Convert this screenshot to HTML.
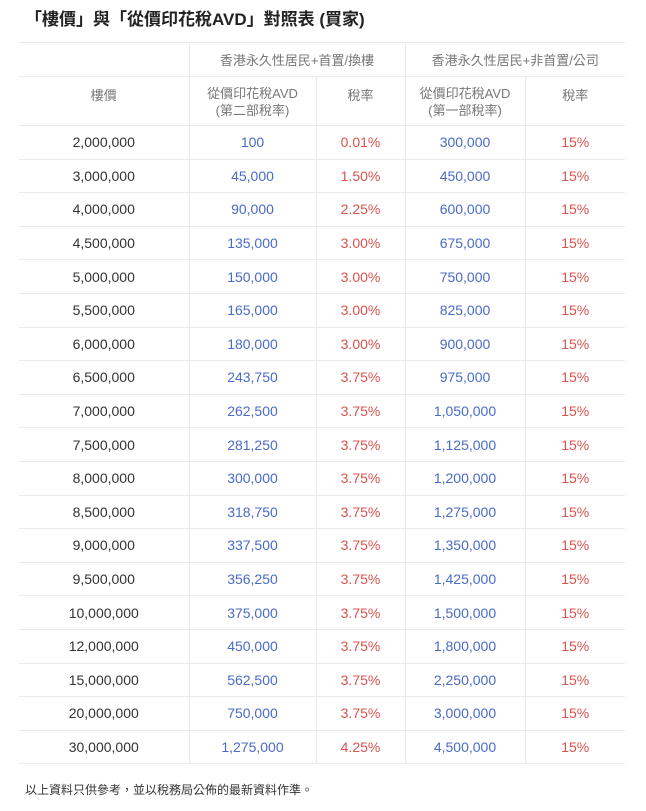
<!DOCTYPE html>
<html><head><meta charset="utf-8"><style>
body{margin:0;background:#fff;font-family:"Liberation Sans","Noto Sans CJK TC",sans-serif;width:646px;height:811px;overflow:hidden;position:relative}
h1{position:absolute;left:25px;top:8px;margin:0;font-size:17px;font-weight:bold;color:#222;line-height:24px}
table{position:absolute;left:19px;top:42px;width:606px;border-collapse:collapse;font-size:14px;table-layout:fixed}
td{border:1px solid #eaeaea;text-align:center;padding:0;height:32.6px;color:#333;overflow:hidden}
td:first-child{border-left:none}
td:last-child{border-right:none}
.h td{color:#777;font-size:13px}
.b{color:#4a6bc6}.r{color:#d9534f}
p{position:absolute;left:25px;top:781px;margin:0;font-size:12px;color:#333}
</style></head><body>
<h1>「樓價」與「從價印花稅AVD」對照表 (買家)</h1>
<table>
<colgroup><col style="width:170px"><col style="width:127px"><col style="width:89px"><col style="width:120px"><col></colgroup>
<tr class="h"><td style="height:33px"></td><td colspan="2">香港永久性居民+首置/換樓</td><td colspan="2">香港永久性居民+非首置/公司</td></tr>
<tr class="h"><td style="height:49px;vertical-align:top;padding-top:8px;box-sizing:border-box">樓價</td><td style="vertical-align:top;line-height:17px;padding-top:8px">從價印花稅AVD<br>(第二部稅率)</td><td style="vertical-align:top;padding-top:8px">稅率</td><td style="vertical-align:top;line-height:17px;padding-top:8px">從價印花稅AVD<br>(第一部稅率)</td><td style="vertical-align:top;padding-top:8px">稅率</td></tr>
<tr><td>2,000,000</td><td class="b">100</td><td class="r">0.01%</td><td class="b">300,000</td><td class="r">15%</td></tr>
<tr><td>3,000,000</td><td class="b">45,000</td><td class="r">1.50%</td><td class="b">450,000</td><td class="r">15%</td></tr>
<tr><td>4,000,000</td><td class="b">90,000</td><td class="r">2.25%</td><td class="b">600,000</td><td class="r">15%</td></tr>
<tr><td>4,500,000</td><td class="b">135,000</td><td class="r">3.00%</td><td class="b">675,000</td><td class="r">15%</td></tr>
<tr><td>5,000,000</td><td class="b">150,000</td><td class="r">3.00%</td><td class="b">750,000</td><td class="r">15%</td></tr>
<tr><td>5,500,000</td><td class="b">165,000</td><td class="r">3.00%</td><td class="b">825,000</td><td class="r">15%</td></tr>
<tr><td>6,000,000</td><td class="b">180,000</td><td class="r">3.00%</td><td class="b">900,000</td><td class="r">15%</td></tr>
<tr><td>6,500,000</td><td class="b">243,750</td><td class="r">3.75%</td><td class="b">975,000</td><td class="r">15%</td></tr>
<tr><td>7,000,000</td><td class="b">262,500</td><td class="r">3.75%</td><td class="b">1,050,000</td><td class="r">15%</td></tr>
<tr><td>7,500,000</td><td class="b">281,250</td><td class="r">3.75%</td><td class="b">1,125,000</td><td class="r">15%</td></tr>
<tr><td>8,000,000</td><td class="b">300,000</td><td class="r">3.75%</td><td class="b">1,200,000</td><td class="r">15%</td></tr>
<tr><td>8,500,000</td><td class="b">318,750</td><td class="r">3.75%</td><td class="b">1,275,000</td><td class="r">15%</td></tr>
<tr><td>9,000,000</td><td class="b">337,500</td><td class="r">3.75%</td><td class="b">1,350,000</td><td class="r">15%</td></tr>
<tr><td>9,500,000</td><td class="b">356,250</td><td class="r">3.75%</td><td class="b">1,425,000</td><td class="r">15%</td></tr>
<tr><td>10,000,000</td><td class="b">375,000</td><td class="r">3.75%</td><td class="b">1,500,000</td><td class="r">15%</td></tr>
<tr><td>12,000,000</td><td class="b">450,000</td><td class="r">3.75%</td><td class="b">1,800,000</td><td class="r">15%</td></tr>
<tr><td>15,000,000</td><td class="b">562,500</td><td class="r">3.75%</td><td class="b">2,250,000</td><td class="r">15%</td></tr>
<tr><td>20,000,000</td><td class="b">750,000</td><td class="r">3.75%</td><td class="b">3,000,000</td><td class="r">15%</td></tr>
<tr><td>30,000,000</td><td class="b">1,275,000</td><td class="r">4.25%</td><td class="b">4,500,000</td><td class="r">15%</td></tr>
</table>
<p>以上資料只供參考，並以稅務局公佈的最新資料作準。</p>
</body></html>
